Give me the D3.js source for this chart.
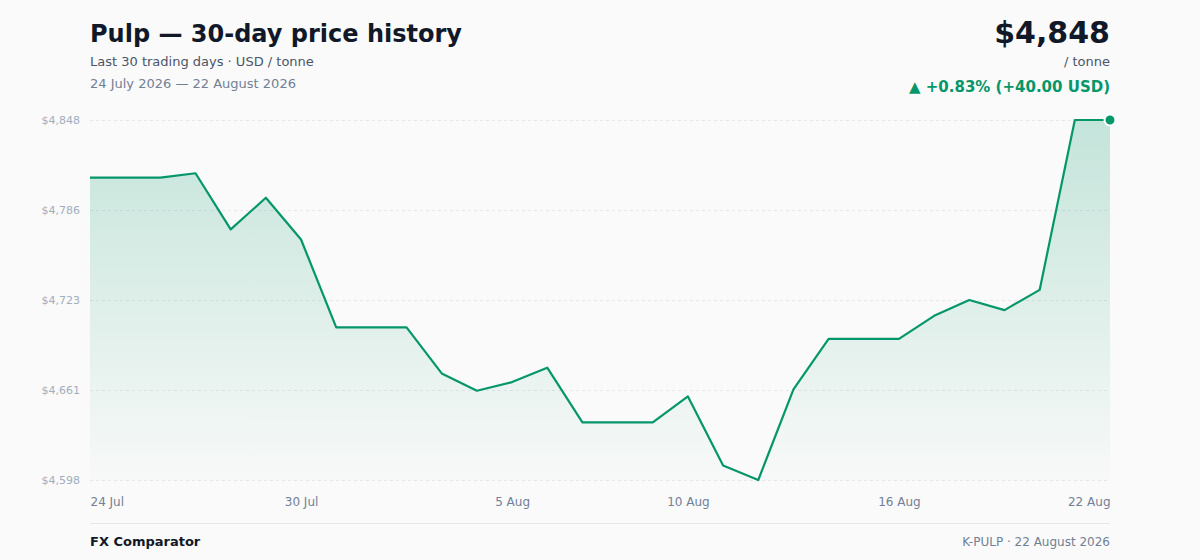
<!DOCTYPE html>
<html>
<head>
<meta charset="utf-8">
<script src="https://cdn.jsdelivr.net/npm/d3@7"></script>
<style>
  body { margin: 0; background: #fafafa; font-family: "DejaVu Sans", sans-serif; }
  svg { display: block; }
</style>
</head>
<body>
<div id="chart"></div>
<script>
// data: 30 calendar days, 24 Jul - 22 Aug 2026
var startDate = new Date(2026, 6, 24);
var prices = [4808, 4808, 4808, 4811, 4772, 4794, 4765, 4704, 4704, 4704,
              4672, 4660, 4666, 4676, 4638, 4638, 4638, 4656, 4608, 4598,
              4661, 4696, 4696, 4696, 4712, 4723, 4716, 4730, 4848, 4848];
var tickIdx = [0, 6, 12, 17, 23, 29];

var width = 1200, height = 560;
var margin = { top: 120, right: 90, bottom: 80, left: 90 };
var green = "#059669";

var data = prices.map(function (p, i) {
  return { date: d3.timeDay.offset(startDate, i), price: p };
});

var svg = d3.select("#chart").append("svg")
  .attr("width", width).attr("height", height);

var x = d3.scaleTime()
  .domain(d3.extent(data, function (d) { return d.date; }))
  .range([margin.left, width - margin.right]);
var yMin = d3.min(prices), yMax = d3.max(prices);
var y = d3.scaleLinear()
  .domain([yMin, yMax])
  .range([height - margin.bottom, margin.top]);

// gradient for area
var grad = svg.append("defs").append("linearGradient")
  .attr("id", "fade").attr("x1", 0).attr("y1", 0).attr("x2", 0).attr("y2", 1);
grad.append("stop").attr("offset", "0%").attr("stop-color", green).attr("stop-opacity", 0.22);
grad.append("stop").attr("offset", "100%").attr("stop-color", green).attr("stop-opacity", 0.01);

// y grid + labels
var yTicks = d3.range(5).map(function (k) { return yMin + k * (yMax - yMin) / 4; });
var fmt = d3.format(",.0f");
var yAxis = d3.axisLeft(y)
  .tickValues(yTicks)
  .tickSize(-(width - margin.left - margin.right))
  .tickPadding(10)
  .tickFormat(function (d) { return "$" + fmt(d); });
var gy = svg.append("g")
  .attr("transform", "translate(" + margin.left + ",0)")
  .call(yAxis);
gy.select(".domain").remove();
gy.selectAll("line").attr("stroke", "#e5e7eb").attr("stroke-dasharray", "3,3");
gy.selectAll("text").attr("fill", "#a0aec0").attr("font-size", 11)
  .attr("font-family", "DejaVu Sans");

// area + line
var area = d3.area()
  .x(function (d) { return x(d.date); })
  .y0(y(yMin))
  .y1(function (d) { return y(d.price); });
var line = d3.line()
  .x(function (d) { return x(d.date); })
  .y(function (d) { return y(d.price); });

svg.append("path").datum(data).attr("d", area).attr("fill", "url(#fade)");
svg.append("path").datum(data).attr("d", line)
  .attr("fill", "none").attr("stroke", green).attr("stroke-width", 2.2)
  .attr("stroke-linejoin", "round");

var last = data[data.length - 1];
svg.append("circle")
  .attr("cx", x(last.date)).attr("cy", y(last.price)).attr("r", 5.5)
  .attr("fill", green).attr("stroke", "#fff").attr("stroke-width", 2);

// x axis labels
var xAxis = d3.axisBottom(x)
  .tickValues(tickIdx.map(function (i) { return data[i].date; }))
  .tickSize(0)
  .tickPadding(17)
  .tickFormat(d3.timeFormat("%-d %b"));
var gx = svg.append("g")
  .attr("transform", "translate(0," + (height - margin.bottom) + ")")
  .call(xAxis);
gx.select(".domain").remove();
gx.selectAll("text").attr("fill", "#718096").attr("font-size", 12)
  .attr("font-family", "DejaVu Sans")
  .attr("text-anchor", function (d, i) {
    return i === 0 ? "start" : (i === tickIdx.length - 1 ? "end" : "middle");
  });

// header
svg.append("text").attr("x", 90).attr("y", 42)
  .attr("font-size", 24).attr("font-weight", "bold").attr("fill", "#111827")
  .text("Pulp — 30-day price history");
svg.append("text").attr("x", 90).attr("y", 66)
  .attr("font-size", 13).attr("fill", "#4a5568")
  .text("Last 30 trading days · USD / tonne");
svg.append("text").attr("x", 90).attr("y", 88)
  .attr("font-size", 13).attr("fill", "#718096")
  .text("24 July 2026 — 22 August 2026");

var first = data[0];
var diff = last.price - first.price;
svg.append("text").attr("x", 1110).attr("y", 43).attr("text-anchor", "end")
  .attr("font-size", 30).attr("font-weight", "bold").attr("fill", "#111827")
  .text("$" + fmt(last.price));
svg.append("text").attr("x", 1110).attr("y", 66).attr("text-anchor", "end")
  .attr("font-size", 13).attr("fill", "#4a5568")
  .text("/ tonne");
svg.append("text").attr("x", 1110).attr("y", 92).attr("text-anchor", "end")
  .attr("font-size", 15).attr("font-weight", "bold").attr("fill", green)
  .text("▲ +" + (diff / first.price * 100).toFixed(2) + "% (+" + diff.toFixed(2) + " USD)");

// footer
svg.append("line").attr("x1", 90).attr("x2", 1110).attr("y1", 523.5).attr("y2", 523.5)
  .attr("stroke", "#e5e7eb").attr("stroke-width", 1);
svg.append("text").attr("x", 90).attr("y", 546)
  .attr("font-size", 13).attr("font-weight", "bold").attr("fill", "#111827")
  .text("FX Comparator");
svg.append("text").attr("x", 1110).attr("y", 546).attr("text-anchor", "end")
  .attr("font-size", 12).attr("fill", "#718096")
  .text("K-PULP · 22 August 2026");
</script>
</body>
</html>
